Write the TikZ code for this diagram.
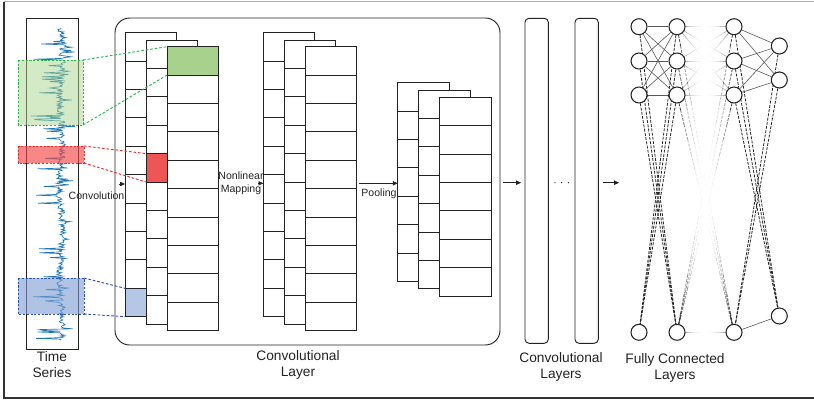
\documentclass[tikz,border=0pt]{standalone}
\usepackage{fontspec}
\setmainfont{Liberation Sans}
\usetikzlibrary{calc,arrows.meta,backgrounds}

\definecolor{sigblue}{RGB}{31,119,180}
\definecolor{cellgreen}{RGB}{169,209,142}
\definecolor{cellred}{RGB}{238,85,85}
\definecolor{cellblue}{RGB}{180,199,231}
\definecolor{wingreen}{RGB}{170,212,140}
\definecolor{winred}{RGB}{245,70,70}
\definecolor{winblue}{RGB}{125,155,212}
\definecolor{dashgreen}{RGB}{40,185,80}
\definecolor{dashred}{RGB}{235,45,45}
\definecolor{dashblue}{RGB}{45,80,185}
\definecolor{ink}{RGB}{35,35,35}

\tikzset{
  frameline/.style={draw=ink, line width=0.7pt},
  cell/.style={draw=ink, line width=0.75pt, fill=white},
  signal/.style={draw=sigblue, line width=0.5pt, line join=miter},
  window/.style={dashed, dash pattern=on 1.6pt off 1.2pt, line width=0.75pt},
  link/.style={dashed, dash pattern=on 2pt off 1.4pt, line width=0.7pt},
  arr/.style={draw=ink, line width=0.5pt, -{Triangle[length=3.6pt,width=3.2pt]}},
  biglbl/.style={align=center, text=ink, inner sep=0pt,
    font=\fontsize{10.3pt}{12pt}\selectfont},
  smalllbl/.style={align=center, text=ink, inner sep=0pt,
    font=\fontsize{7.9pt}{10pt}\selectfont},
  neuron/.style={circle, draw=ink, line width=0.8pt, fill=white,
    minimum size=12pt, inner sep=0pt},
  fcsolid/.style={draw=black!65, line width=0.45pt},
  fcdash/.style={draw=black!85, line width=0.6pt, dash pattern=on 2.2pt off 1pt},
}

% one feature-map sheet: left, top, number of cells
\newcommand\fmapsheet[3]{%
  \foreach \k in {1,...,#3}{%
    \draw[cell] (#1,{#2+(\k-1)*28.4}) rectangle ++(51.5,28.4);
  }%
}

% a connection that fades out towards its middle
\newcommand\fadeedge[3]{%
  \foreach \s in {0,...,15}{%
    \pgfmathsetmacro\ta{\s/16}%
    \pgfmathsetmacro\tb{(\s+1)/16}%
    \pgfmathsetmacro\op{(abs((\s+0.5)/8-1))^2}%
    \draw[#1, draw opacity=\op] ($(#2)!\ta!(#3)$) -- ($(#2)!\tb!(#3)$);
  }%
}

\begin{document}
\begin{tikzpicture}[x=0.75pt, y=-0.75pt]
\useasboundingbox (0,0) rectangle (814,400);

% outer frame
\draw[black!30, line width=0.9pt] (4,1.5) -- (814,1.5);
\draw[black!80, line width=1pt] (4,1.5) -- (4,398) -- (814,398);

% ---------- time series ----------
\pgfmathsetseed{23}
\draw[signal] (61,28) \foreach \n in {1,...,390}{
  -- ({61 + 1.5*sin(\n*3.2) + 3.4*rand + (rnd<0.09)*(-(10+20*rnd)) + (rnd<0.07)*(4+8*rnd)},{28+0.8*\n}) };
\draw[frameline] (26,18) rectangle (78,349);

% sliding windows on the series
\draw[window, draw=dashgreen, fill=wingreen, fill opacity=0.5] (18,60) rectangle (83,125);
\draw[window, draw=dashred, fill=winred, fill opacity=0.65] (18,146) rectangle (84,163);
\draw[window, draw=dashblue, fill=winblue, fill opacity=0.6] (18,278) rectangle (84,314);
\coordinate (gwTR) at (83,60);   \coordinate (gwBR) at (83,125);
\coordinate (rwTR) at (84,146);  \coordinate (rwBR) at (84,163);
\coordinate (bwTR) at (84,278);  \coordinate (bwBR) at (84,314);

\node[biglbl] (tslbl) at (52,365) {Time\\Series};

% ---------- convolutional layer ----------
\draw[frameline, rounded corners=11pt] (115,18) rectangle (500,345);

% feature maps after convolution
\fmapsheet{125}{32.7}{10}
\draw[cell, fill=cellblue] (125,288.3) rectangle ++(51.5,28.4);
\fmapsheet{146}{40}{10}
\draw[cell, fill=cellred] (146,153.6) rectangle ++(51.5,28.4);
\fmapsheet{167}{46.7}{10}
\draw[cell, fill=cellgreen] (167,46.7) rectangle ++(51.5,28.4);
\coordinate (gcTL) at (167,46.7);  \coordinate (gcBL) at (167,75.1);
\coordinate (rcTL) at (146,153.6); \coordinate (rcBL) at (146,182);
\coordinate (bcTL) at (125,288.3); \coordinate (bcBL) at (125,316.7);

% window-to-cell links
\draw[link, draw=dashgreen] (gwTR) -- (gcTL);
\draw[link, draw=dashgreen] (gwBR) -- (gcBL);
\draw[link, draw=dashred] (rwTR) -- (rcTL);
\draw[link, draw=dashred] (rwBR) -- (rcBL);
\draw[link, draw=dashblue] (bwTR) -- (bcTL);
\draw[link, draw=dashblue] (bwBR) -- (bcBL);

% feature maps after the nonlinear mapping
\fmapsheet{263.3}{32.7}{10}
\fmapsheet{284.3}{40}{10}
\fmapsheet{305.3}{46.7}{10}

% pooled feature maps
\fmapsheet{397.7}{82.7}{7}
\fmapsheet{418.7}{90}{7}
\fmapsheet{439.7}{97.3}{7}

% step arrows and their labels
\coordinate (cvS) at (119,184);   \coordinate (cvE) at (125,184);
\coordinate (nmS) at (257.5,183.3); \coordinate (nmE) at (263.3,183.3);
\coordinate (plS) at (359,183.3); \coordinate (plE) at (397.7,183.3);
\draw[arr] (cvS) -- (cvE);
\draw[arr] (nmS) -- (nmE);
\draw[arr] (plS) -- (plE);
\node[smalllbl] (cvlbl) at (96.5,195.5) {Convolution};
\node[smalllbl] (nmlbl) at (241,183.3) {Nonlinear\\Mapping};
\node[smalllbl] (pllbl) at (379,193.3) {Pooling};

\node[biglbl] (cllbl) at (298,365) {Convolutional\\Layer};

% ---------- further convolutional layers ----------
\draw[frameline, rounded corners=3pt] (525,18.3) rectangle (548.3,343.3);
\draw[frameline, rounded corners=3pt] (575,18.3) rectangle (598.3,343.3);
\coordinate (a1S) at (503,182.7); \coordinate (a1E) at (521,182.7);
\coordinate (a2S) at (603,182.7); \coordinate (a2E) at (619,182.7);
\draw[arr] (a1S) -- (a1E);
\draw[arr] (a2S) -- (a2E);
\foreach \dx in {555,561.7,568.4}{\fill[ink] (\dx,182.7) circle (0.5pt);}
\node[biglbl] (cllbl2) at (561,366.5) {Convolutional\\Layers};

% ---------- fully connected layers ----------
\foreach \n/\y in {1/26.7,2/61,3/95,4/332.3}{
  \node[neuron] (a\n) at (639,\y) {};
  \node[neuron] (b\n) at (677,\y) {};
  \node[neuron] (c\n) at (734,\y) {};
}
\node[neuron] (d1) at (779.3,46) {};
\node[neuron] (d2) at (779.3,80) {};
\node[neuron] (d3) at (779.3,316) {};

\begin{pgfonlayer}{background}
  % first pair of layers
  \foreach \i in {1,2,3}{
    \foreach \j in {1,2,3}{\draw[fcsolid] (a\i) -- (b\j);}
    \draw[fcdash] (a\i) -- (b4);
    \draw[fcdash] (b\i) -- (a4);
  }
  % hidden layers in between, fading out
  \foreach \i in {1,2,3}{
    \foreach \j in {1,2,3}{\fadeedge{fcsolid}{b\i}{c\j}}
    \fadeedge{fcdash}{b\i}{c4}
    \fadeedge{fcdash}{c\i}{b4}
  }
  \fadeedge{fcsolid}{b4}{c4}
  % last pair of layers
  \foreach \i in {1,2,3}{
    \foreach \j in {1,2}{\draw[fcsolid] (c\i) -- (d\j);}
    \draw[fcdash] (c\i) -- (d3);
  }
  \foreach \j in {1,2}{\draw[fcdash] (d\j) -- (c4);}
  \draw[fcsolid] (c4) -- (d3);
\end{pgfonlayer}

\node[biglbl] (fclbl) at (675,368) {Fully Connected\\Layers};
\end{tikzpicture}
\end{document}
